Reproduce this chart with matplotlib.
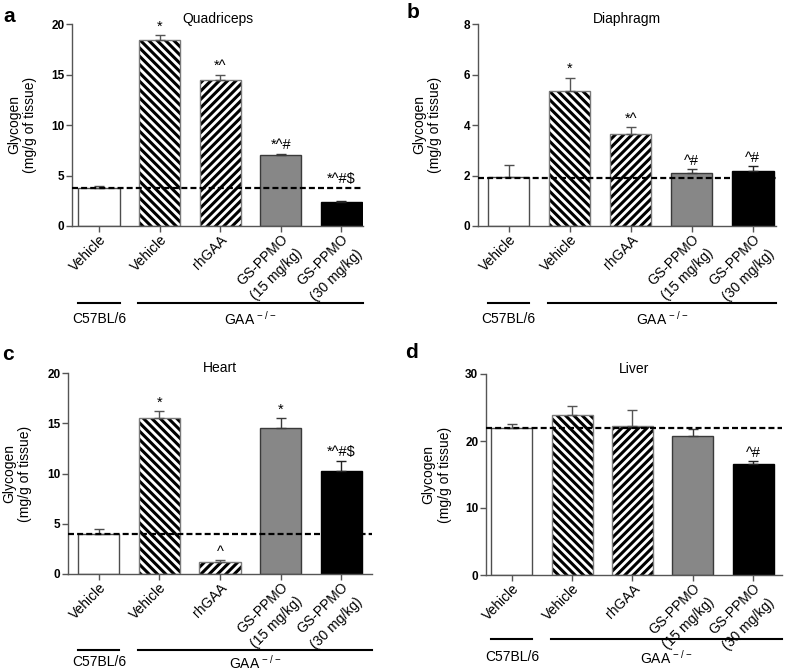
import matplotlib
matplotlib.use('Agg')
import matplotlib.pyplot as plt
import matplotlib.transforms as mtransforms
import numpy as np

plt.rcParams['font.family'] = ['Liberation Sans', 'DejaVu Sans']
plt.rcParams['mathtext.default'] = 'regular'
plt.rcParams['hatch.linewidth'] = 2.2

# ------------------------------------------------------------------ #
# data
# ------------------------------------------------------------------ #
groups = ['Vehicle', 'Vehicle', 'rhGAA', 'GS-PPMO\n(15 mg/kg)', 'GS-PPMO\n(30 mg/kg)']

quad_mean = [3.72, 18.42, 14.41, 7.0, 2.35]
quad_err = [0.25, 0.46, 0.59, 0.17, 0.12]
quad_ref = 3.73
quad_sig = ['', '*', '*^', '*^#', '*^#$']

dia_mean = [1.95, 5.34, 3.66, 2.08, 2.19]
dia_err = [0.45, 0.54, 0.25, 0.17, 0.18]
dia_ref = 1.92
dia_sig = ['', '*', '*^', '^#', '^#']

heart_mean = [3.99, 15.55, 1.2, 14.55, 10.23]
heart_err = [0.5, 0.66, 0.16, 1.0, 1.03]
heart_ref = 3.99
heart_sig = ['', '*', '^', '*', '*^#$']

liver_mean = [22.0, 23.9, 22.3, 20.7, 16.5]
liver_err = [0.5, 1.3, 2.3, 1.1, 0.5]
liver_ref = 21.9
liver_sig = ['', '', '', '', '^#']

# bar styles: (face, edge, hatch)
BAR_STYLES = [
    ('white', '#4d4d4d', None),
    ('white', '#7a7a7a', '\\\\\\\\'),
    ('white', '#7a7a7a', '////'),
    ('#878787', '#3a3a3a', None),
    ('black', 'black', None),
]
ERR_COLORS = ['#4d4d4d', '#555555', '#555555', '#3a3a3a', '#222222']
AX_COLOR = '#555555'

W, H = 796, 672
fig = plt.figure(figsize=(W / 100, H / 100), dpi=100)


def px_axes(left, top, right, bottom):
    return fig.add_axes([left / W, 1 - bottom / H, (right - left) / W, (bottom - top) / H])


def draw_panel(ax, means, errs, ref, sig, ymax, ystep, xlim, title, group_y,
               label_x, lift):
    x = np.arange(len(means))
    width = 0.68
    for i, (face, edge, hatch) in enumerate(BAR_STYLES):
        if hatch:
            ax.bar(x[i], means[i], width, color='white', edgecolor='black',
                   linewidth=0, hatch=hatch, zorder=2)
            ax.bar(x[i], means[i], width, fill=False, edgecolor=edge,
                   linewidth=1.0, zorder=2.5)
        else:
            ax.bar(x[i], means[i], width, color=face, edgecolor=edge,
                   linewidth=1.0, zorder=2)
        ax.errorbar(x[i], means[i], yerr=[[0], [errs[i]]], fmt='none',
                    ecolor=ERR_COLORS[i], elinewidth=1.0, capsize=3.6,
                    capthick=1.0, zorder=3)
        if sig[i]:
            y = means[i] + errs[i]
            ax.annotate(sig[i], (x[i], y), xytext=(0, 1.0 + lift[i]),
                        textcoords='offset points', ha='center', va='bottom',
                        fontsize=10.5)

    # reference (wild-type vehicle) level
    ax.axhline(ref, color='black', lw=1.6, ls=(0, (2.7, 1.4)), zorder=4)

    ax.set_xlim(*xlim)
    ax.set_ylim(0, ymax)
    ticks = np.arange(0, ymax + 0.01, ystep)
    ax.set_yticks(ticks)
    ax.set_yticklabels([f'{v:g}' for v in ticks], fontsize=8.5, fontweight='bold')
    ax.set_xticks(x)
    ax.set_xticklabels(groups, rotation=45, ha='right', va='top',
                       rotation_mode='anchor', fontsize=10, linespacing=1.55)
    for s in ['top', 'right']:
        ax.spines[s].set_visible(False)
    for s in ['left', 'bottom']:
        ax.spines[s].set_color(AX_COLOR)
        ax.spines[s].set_linewidth(1.0)
    ax.tick_params(axis='both', color=AX_COLOR, length=4, width=1.0)
    ax.tick_params(axis='x', pad=0.5)
    ax.tick_params(axis='y', pad=1.5)

    ax.set_ylabel('Glycogen\n(mg/g of tissue)', fontsize=10)
    ax.yaxis.set_label_coords(label_x, 0.5)
    ax.text(0.5, 1.025, title, transform=ax.transAxes, ha='center',
            va='center', fontsize=10)

    # strain brackets under the x labels
    line_y, text_y = group_y
    trans = mtransforms.blended_transform_factory(ax.transData, ax.transAxes)
    ax.plot([-0.34, 0.34], [line_y, line_y], transform=trans, color='black',
            lw=1.5, clip_on=False)
    ax.plot([0.64, xlim[1]], [line_y, line_y], transform=trans, color='black',
            lw=1.5, clip_on=False)
    ax.text(0, text_y, 'C57BL/6', transform=trans, ha='center', va='center',
            fontsize=10)
    ax.text((0.64 + xlim[1]) / 2, text_y, r'GAA$^{\,-/-}$', transform=trans,
            ha='center', va='center', fontsize=10)


ax_a = px_axes(72, 24, 363, 226)
ax_b = px_axes(478, 24, 776, 226)
ax_c = px_axes(68, 373, 372, 574)
ax_d = px_axes(486, 374, 782, 575)

draw_panel(ax_a, quad_mean, quad_err, quad_ref, quad_sig, 20, 5,
           (-0.446, 4.36), 'Quadriceps', (-0.38, -0.46), -0.12, [0, 0, 0, 0, 10])
draw_panel(ax_b, dia_mean, dia_err, dia_ref, dia_sig, 8, 2,
           (-0.5, 4.38), 'Diaphragm', (-0.38, -0.46), -0.12, [0, 0, 0, 0, 0])
draw_panel(ax_c, heart_mean, heart_err, heart_ref, heart_sig, 20, 5,
           (-0.51, 4.51), 'Heart', (-0.38, -0.44), -0.117, [0, 0, 0, 0, 0])
draw_panel(ax_d, liver_mean, liver_err, liver_ref, liver_sig, 30, 10,
           (-0.43, 4.48), 'Liver', (-0.32, -0.41), -0.116, [0, 0, 0, 0, 0])

for letter, (px, py) in zip('abcd', [(9, 16), (413, 12), (8, 355), (412, 353)]):
    fig.text(px / W, 1 - py / H, letter, fontsize=15, fontweight='bold',
             ha='center', va='center')

fig.savefig('out.png', dpi=100, facecolor='white')
